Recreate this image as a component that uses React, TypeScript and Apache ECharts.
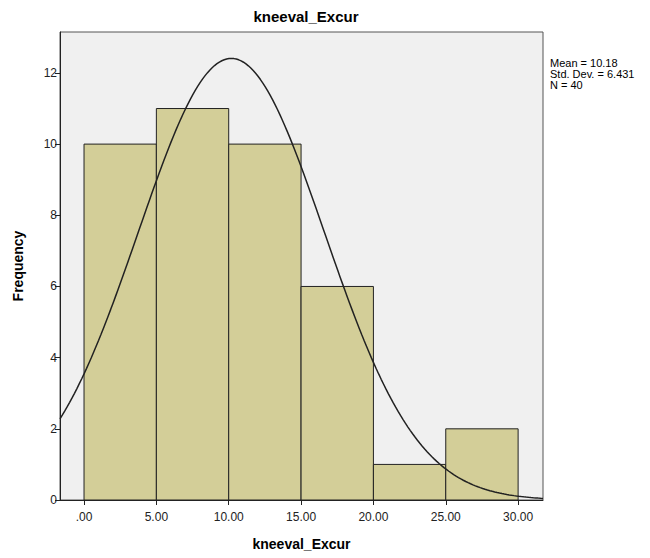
import React, { useEffect, useRef } from "react";
import * as echarts from "echarts";

const binStarts = [0, 5, 10, 15, 20, 25];
const binEnds = [5, 10, 15, 20, 25, 30];
const frequencies = [10, 11, 10, 6, 1, 2];
const xTickValues = [0, 5, 10, 15, 20, 25, 30];
const yTickValues = [0, 2, 4, 6, 8, 10, 12];
const statMean = 10.18;
const statSd = 6.431;
const statN = 40;
const binWidth = 5;
const xMin = -1.66;
const xMax = 31.72;
const yMax = 13.15;

export default function App() {
  const ref = useRef<HTMLDivElement>(null);
  useEffect(() => {
    document.body.style.margin = "0";
    const chart = echarts.init(ref.current!, null, { renderer: "svg" });
    const barData = binStarts.map((s, i) => [s, binEnds[i], frequencies[i]]);
    const curve: number[][] = [];
    const steps = 200;
    for (let i = 0; i <= steps; i++) {
      const x = xMin + ((xMax - xMin) * i) / steps;
      const y =
        ((statN * binWidth) / (statSd * Math.sqrt(2 * Math.PI))) *
        Math.exp(-((x - statMean) ** 2) / (2 * statSd * statSd));
      curve.push([x, y]);
    }
    const font = "'Liberation Sans', Arial, sans-serif";
    chart.setOption({
      animation: false,
      title: {
        text: "kneeval_Excur",
        left: 301,
        top: 4,
        textAlign: "center",
        textStyle: { fontFamily: font, fontSize: 15, fontWeight: "bold", color: "#000" },
      },
      grid: {
        left: 60,
        right: 107,
        top: 32,
        bottom: 58,
        show: true,
        backgroundColor: "#f0f0f0",
        borderColor: "#555",
        borderWidth: 1,
      },
      xAxis: {
        type: "value",
        min: xMin,
        max: xMax,
        name: "kneeval_Excur",
        nameLocation: "middle",
        nameGap: 37,
        nameTextStyle: { fontFamily: font, fontSize: 14, fontWeight: "bold", color: "#000" },
        splitLine: { show: false },
        axisLine: { show: true, onZero: false, lineStyle: { color: "#222" } },
        axisTick: { show: true, length: 5, customValues: xTickValues, lineStyle: { color: "#222" } },
        axisLabel: {
          customValues: xTickValues,
          margin: 11,
          fontFamily: font,
          fontSize: 12,
          color: "#222",
          formatter: (v: number) => (v === 0 ? ".00" : v.toFixed(2)),
        },
      },
      yAxis: {
        type: "value",
        min: 0,
        max: yMax,
        name: "Frequency",
        nameLocation: "middle",
        nameGap: 35,
        nameTextStyle: { fontFamily: font, fontSize: 14, fontWeight: "bold", color: "#000" },
        splitLine: { show: false },
        axisLine: { show: true, onZero: false, lineStyle: { color: "#222" } },
        axisTick: { show: true, length: 5, customValues: yTickValues, lineStyle: { color: "#222" } },
        axisLabel: {
          customValues: yTickValues,
          margin: 3,
          fontFamily: font,
          fontSize: 12,
          color: "#222",
        },
      },
      graphic: [
        {
          type: "text",
          left: 550,
          top: 57,
          style: {
            text: "Mean = 10.18\nStd. Dev. = 6.431\nN = 40",
            fontFamily: font,
            fontSize: 11,
            lineHeight: 11,
            fill: "#000",
          },
        },
      ],
      series: [
        {
          type: "custom",
          data: barData,
          renderItem: (params: any, api: any) => {
            const p0 = api.coord([api.value(0), api.value(2)]);
            const p1 = api.coord([api.value(1), 0]);
            return {
              type: "rect",
              shape: { x: p0[0], y: p0[1], width: p1[0] - p0[0], height: p1[1] - p0[1] },
              style: { fill: "#d3ce98", stroke: "#222", lineWidth: 1 },
            };
          },
          z: 2,
        },
        {
          type: "line",
          data: curve,
          showSymbol: false,
          symbol: "none",
          lineStyle: { color: "#222", width: 1.5 },
          clip: true,
          z: 3,
        },
      ],
    });
    return () => chart.dispose();
  }, []);
  return <div ref={ref} style={{ width: 650, height: 558 }} />;
}
